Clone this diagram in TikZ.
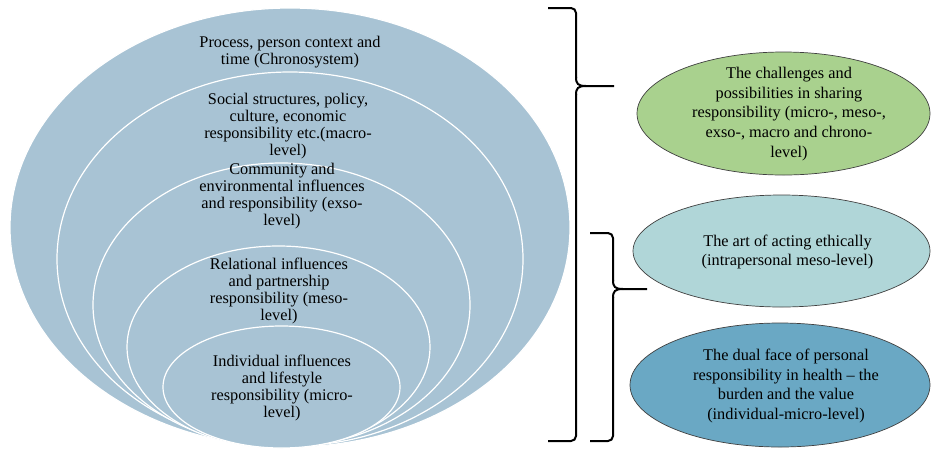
\documentclass[tikz,border=0pt]{standalone}
\usepackage{fontspec}
\setmainfont{Liberation Serif}
\usetikzlibrary{shapes.geometric}
\definecolor{layerblue}{RGB}{168,195,212}
\definecolor{sharegreen}{RGB}{169,209,142}
\definecolor{ethicteal}{RGB}{176,214,216}
\definecolor{dualblue}{RGB}{106,168,196}

\begin{document}
\begin{tikzpicture}[x=1pt, y=-1pt]
      \tikzset{layer/.style={ellipse, draw=white, line width=1.2pt, fill=layerblue, inner sep=0pt},
               theme/.style={ellipse, draw=black!75, line width=0.7pt, inner sep=0pt},
               layertext/.style={align=center, font=\fontsize{16.3}{17}\selectfont},
               themetext/.style={align=center, font=\fontsize{16.3}{19.6}\selectfont},
               bracepath/.style={line width=2pt, rounded corners=5pt}}

      \clip (0,0) rectangle (931,448);

      \node[layer, minimum width=560pt, minimum height=439pt] (chrono) at (290,227.5) {};
      \node[layer, minimum width=466pt, minimum height=374pt] (macro) at (290,259) {};
      \node[layer, minimum width=377pt, minimum height=284pt] (exso) at (281.5,305) {};
      \node[layer, minimum width=303pt, minimum height=202pt] (meso) at (278.5,347) {};
      \node[layer, minimum width=237pt, minimum height=122pt] (micro) at (281.5,387) {};

      \node[layertext] (chronotext) at (290,52) {Process, person context and\\time (Chronosystem)};
      \node[layertext] (macrotext) at (288,126) {Social structures, policy,\\culture, economic\\responsibility etc.(macro-\\level)};
      \node[layertext] (exsotext) at (282,196) {Community and\\environmental influences\\and responsibility (exso-\\level)};
      \node[layertext] (mesotext) at (279,291) {Relational influences\\and partnership\\responsibility (meso-\\level)};
      \node[layertext] (microtext) at (282,388) {Individual influences\\and lifestyle\\responsibility (micro-\\level)};

      \draw[bracepath] (548,8) -- (576,8) -- (576,78);
      \draw[line width=2pt] (576,77) .. controls (576,84) and (578,86) .. (586,86) -- (614,86);
      \draw[line width=2pt] (586,86) .. controls (578,86) and (576,88) .. (576,95);
      \draw[bracepath] (576,94) -- (576,441) -- (548,441);
      \draw[bracepath] (590,233) -- (613,233) -- (613,281);
      \draw[line width=2pt] (613,280) .. controls (613,287) and (615,289) .. (623,289) -- (647,289);
      \draw[line width=2pt] (623,289) .. controls (615,289) and (613,291) .. (613,298);
      \draw[bracepath] (613,297) -- (613,441) -- (590,441);

      \node[theme, fill=sharegreen, minimum width=293pt, minimum height=123pt] (share) at (783.5,113.5) {};
      \node[theme, fill=ethicteal, minimum width=297pt, minimum height=112pt] (ethic) at (781.5,251) {};
      \node[theme, fill=dualblue, minimum width=300pt, minimum height=124pt] (dual) at (780,385) {};

      \node[themetext] (sharetext) at (789,114) {The challenges and\\possibilities in sharing\\responsibility (micro-, meso-,\\exso-, macro and chrono-\\level)};
      \node[themetext] (ethictext) at (787.5,252) {The art of acting ethically\\(intrapersonal meso-level)};
      \node[themetext] (dualtext) at (786,386) {The dual face of personal\\responsibility in health -- the\\burden and the value\\(individual-micro-level)};
\end{tikzpicture}
\end{document}
